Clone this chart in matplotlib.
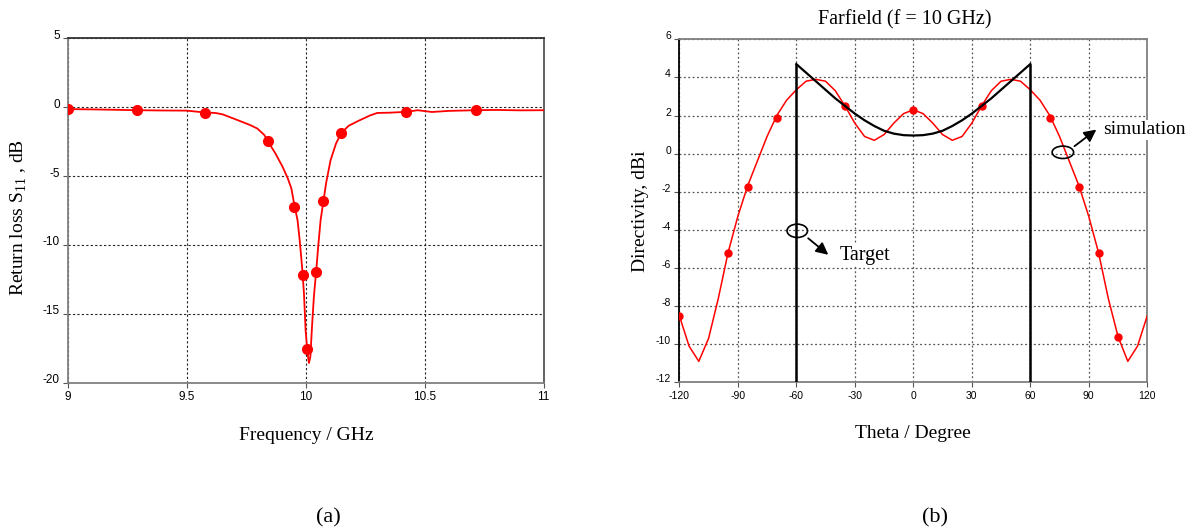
import numpy as np
import matplotlib
matplotlib.use('Agg')
import matplotlib.pyplot as plt
import matplotlib.transforms as mtransforms
from matplotlib.patches import Ellipse

# 字体设置：Times 风格
plt.rcParams['font.family'] = ['Liberation Serif', 'DejaVu Serif']
plt.rcParams['axes.unicode_minus'] = False

# (a) S11 曲线
freq_line = [9.0, 9.1, 9.2, 9.29, 9.4, 9.5, 9.577, 9.62, 9.65, 9.7, 9.766, 9.796,
             9.826, 9.841, 9.872, 9.902, 9.924, 9.939, 9.953, 9.965, 9.974, 9.984,
             9.992, 9.999, 10.007, 10.013, 10.019, 10.026, 10.034, 10.043, 10.052,
             10.062, 10.074, 10.085, 10.104, 10.127, 10.149, 10.18, 10.22, 10.27,
             10.3, 10.35, 10.422, 10.47, 10.53, 10.6, 10.714, 10.8, 10.9, 11.0]
s11_line = [-0.14, -0.16, -0.19, -0.22, -0.24, -0.25, -0.39, -0.42, -0.52, -0.85,
            -1.3, -1.55, -2.03, -2.49, -3.36, -4.32, -5.17, -5.89, -7.22, -8.19,
            -9.64, -11.57, -13.5, -16.2, -17.85, -18.57, -18.1, -15.9, -13.7, -12.0,
            -10.1, -8.2, -6.81, -5.53, -3.84, -2.63, -1.88, -1.35, -1.0, -0.6,
            -0.42, -0.4, -0.34, -0.22, -0.35, -0.27, -0.22, -0.2, -0.23, -0.22]
freq_mark = [9.0, 9.29, 9.577, 9.841, 9.952, 9.987, 10.003, 10.041, 10.073, 10.148,
             10.422, 10.714]
s11_mark = [-0.14, -0.22, -0.39, -2.49, -7.22, -12.17, -17.56, -12.0, -6.81, -1.88,
            -0.34, -0.22]
freq_ticks = [9, 9.5, 10, 10.5, 11]
freq_ticklabels = ['9', '9.5', '10', '10.5', '11']
s11_ticks = [-20, -15, -10, -5, 0, 5]

# (b) 方向图
theta_line = [-120, -115, -110, -105, -100, -95, -90, -85, -80, -75, -70, -65, -60,
              -55, -50, -45, -40, -35, -30, -25, -20, -15, -10, -5, 0, 5, 10, 15, 20,
              25, 30, 35, 40, 45, 50, 55, 60, 65, 70, 75, 80, 85, 90, 95, 100, 105,
              110, 115, 120]
dir_line = [-8.5, -10.1, -10.9, -9.7, -7.6, -5.2, -3.3, -1.7, -0.4, 0.9, 2.0, 2.8,
            3.35, 3.8, 3.9, 3.8, 3.3, 2.5, 1.6, 0.9, 0.7, 1.0, 1.6, 2.1, 2.3, 2.1,
            1.6, 1.0, 0.7, 0.9, 1.6, 2.5, 3.3, 3.8, 3.9, 3.8, 3.35, 2.8, 2.0, 0.9,
            -0.4, -1.7, -3.3, -5.2, -7.6, -9.6, -10.9, -10.1, -8.5]
theta_mark = [-120, -95, -85, -70, -35, 0, 35, 70, 85, 95, 105]
dir_mark = [-8.5, -5.2, -1.73, 1.89, 2.5, 2.31, 2.5, 1.89, -1.73, -5.2, -9.63]

# 目标方向图
theta_target = [-60, -55, -50, -45, -40, -35, -30, -25, -20, -15, -10, -5, 0,
                5, 10, 15, 20, 25, 30, 35, 40, 45, 50, 55, 60]
dir_target = [4.7, 4.25, 3.8, 3.35, 2.9, 2.5, 2.1, 1.75, 1.45, 1.2, 1.05, 0.97, 0.95,
              0.97, 1.05, 1.2, 1.45, 1.75, 2.1, 2.5, 2.9, 3.35, 3.8, 4.25, 4.7]
theta_ticks = [-120, -90, -60, -30, 0, 30, 60, 90, 120]
dir_ticks = [-12, -10, -8, -6, -4, -2, 0, 2, 4, 6]

W, H = 1195, 532
fig = plt.figure(figsize=(W / 100, H / 100), dpi=100)
# 像素位置换算成 figure 坐标
ax1 = fig.add_axes([68 / W, 1 - 382.7 / H, (543.7 - 68) / W, (382.7 - 38.3) / H])
ax2 = fig.add_axes([679.3 / W, 1 - 382.3 / H, (1147.3 - 679.3) / W, (382.3 - 39.3) / H])

# ---- (a)
ax1.plot(freq_line, s11_line, color='#ff0000', lw=1.3, zorder=3)
ax1.plot(freq_mark, s11_mark, 'o', color='#ff0000', ms=7, zorder=4)
ax1.set_xlim(9, 11)
ax1.set_ylim(-20, 5)
ax1.set_xticks(freq_ticks)
ax1.set_xticklabels(freq_ticklabels)
ax1.set_yticks(s11_ticks)
ax1.grid(True, color='#222222', linestyle=(0, (2, 2)), linewidth=0.8)
ax1.set_xlabel('Frequency / GHz', fontsize=14)
ax1.set_ylabel('Return loss S$_{\\mathregular{11}}$ , dB', fontsize=14)
ax1.xaxis.set_label_coords(0.5, -0.129)
ax1.yaxis.set_label_coords(-0.082, 0.48)

# ---- (b)
ax2.plot(theta_line, dir_line, color='#ff0000', lw=1.1, zorder=3)
ax2.plot(theta_mark, dir_mark, 'o', color='#ff0000', ms=5, zorder=4)
ax2.plot(theta_target, dir_target, color='black', lw=1.6, zorder=5)
ax2.vlines([theta_target[0], theta_target[-1]], -12, [dir_target[0], dir_target[-1]],
           color='black', lw=1.8, zorder=5)
ax2.set_xlim(-120, 120)
ax2.set_ylim(-12, 6)
ax2.set_xticks(theta_ticks)
ax2.set_yticks(dir_ticks)
ax2.grid(True, color='#555555', linestyle=(0, (1.5, 2)), linewidth=0.9)
ax2.set_xlabel('Theta / Degree', fontsize=14)
ax2.set_ylabel('Directivity, dBi', fontsize=14)
ax2.xaxis.set_label_coords(0.5, -0.125)
ax2.yaxis.set_label_coords(-0.065, 0.5)
ax2.text(0.482, 1 + 20 / 343, 'Farfield (f = 10 GHz)', fontsize=14.5, ha='center',
         va='center', transform=ax2.transAxes)

# 标注
ax2.add_patch(Ellipse((-59.5, -4.05), 10.5, 0.7, fill=False, ec='black', lw=1.2, zorder=6))
ax2.annotate('', xy=(-42.5, -5.4), xytext=(-55.0, -4.35),
             arrowprops=dict(arrowstyle='-|>', color='black', lw=1.3, mutation_scale=18),
             zorder=6)
ax2.text(-37.5, -5.35, 'Target', fontsize=14.5, va='center', ha='left', zorder=7,
         bbox=dict(fc='white', ec='none', pad=1))
ax2.add_patch(Ellipse((76.7, 0.07), 11, 0.65, fill=False, ec='black', lw=1.2, zorder=6))
ax2.annotate('', xy=(95.0, 1.35), xytext=(81.5, 0.3),
             arrowprops=dict(arrowstyle='-|>', color='black', lw=1.3, mutation_scale=18),
             zorder=6)
ax2.text(97.5, 1.25, 'simulation', fontsize=14, va='center', ha='left', zorder=7,
         clip_on=False, bbox=dict(fc='white', ec='none', pad=1))

# 刻度与边框
lift = mtransforms.ScaledTranslation(0, 4 / 100, fig.dpi_scale_trans)
for ax, lsize in ((ax1, 8.5), (ax2, 7.5)):
    ax.tick_params(length=3.5, width=0.8, direction='out', pad=2.5, color='#555555')
    for lab in ax.get_xticklabels() + ax.get_yticklabels():
        lab.set_fontfamily(['Liberation Sans', 'DejaVu Sans'])
        lab.set_fontsize(lsize)
    for lab in ax.get_yticklabels():
        lab.set_transform(lab.get_transform() + lift)
    for s in ax.spines.values():
        s.set_color('#808080')
        s.set_linewidth(1.3)
    ax.set_axisbelow(True)
ax1.spines['top'].set_color('#333333')
ax1.spines['right'].set_color('#555555')
ax2.spines['left'].set_color('black')

fig.text(0.2745, 0.027, '(a)', fontsize=16, ha='center', va='center')
fig.text(0.7825, 0.027, '(b)', fontsize=16, ha='center', va='center')

fig.savefig('out.png', dpi=100)
